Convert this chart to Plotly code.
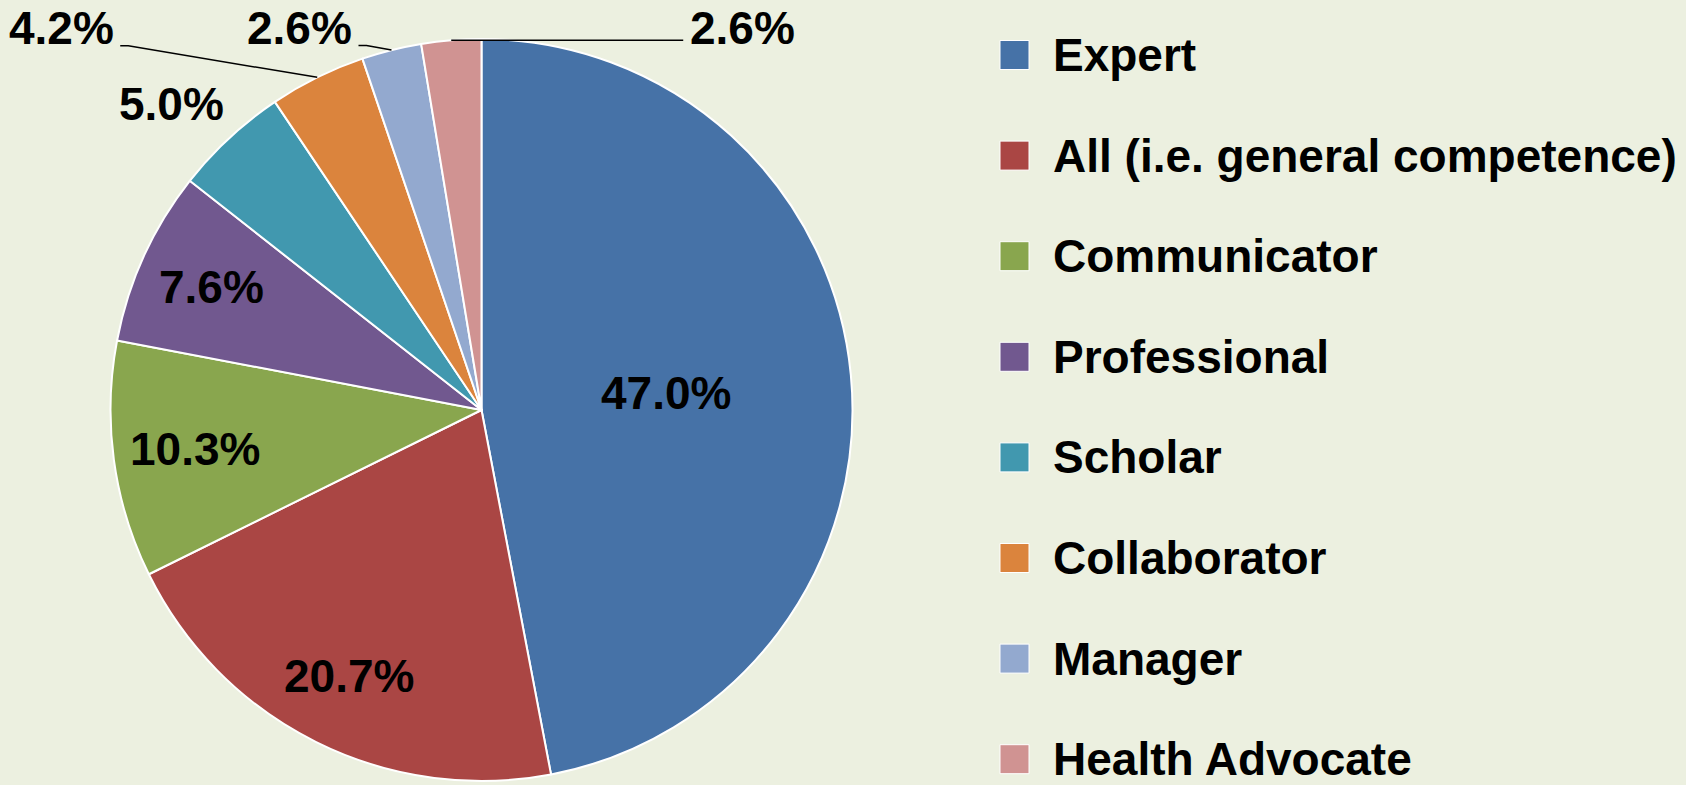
import math
import plotly.graph_objects as go

# ---- data ----
categories = ["Expert", "All (i.e. general competence)", "Communicator", "Professional",
              "Scholar", "Collaborator", "Manager", "Health Advocate"]
shares = [47.0, 20.7, 10.3, 7.6, 5.0, 4.2, 2.6, 2.6]
colors = ["#4672A7", "#AA4644", "#89A64E", "#71588F", "#4198AF", "#DB843D", "#93A9CF", "#D09392"]

# ---- layout constants ----
W, H = 1686, 785
BG = "#ECF0E0"
FONT = "Liberation Sans, Arial, sans-serif"
FS = 46
CX, CY, R = 481.5, 410, 371  # pie centre / radius in px

label_text = [f"{v:.1f}%" for v in shares]
# label placement style: ("in", radial fraction) or ("out", dx, dy, leader)
label_style = [("in", 0.50), ("in", 0.80), ("in", 0.78), ("in", 0.80),
               ("out", -58, -34, False), ("out", -256, -49, True),
               ("out", -92, -22, True), ("out", 291, -12, True)]
HALF_W = 53      # approx half width of a label at this font size (px)
CAP_HALF = 16.5  # approx half cap height (px)

# legend layout (px)
LEG_KEY_X, LEG_KEY_SIZE, LEG_TEXT_X = 1014.5, 29, 1051
LEG_FIRST_Y, LEG_STEP = 55, 100.6

fig = go.Figure()
fig.add_trace(go.Pie(
    labels=categories, values=shares, sort=False, direction="clockwise", rotation=0,
    marker=dict(colors=colors, line=dict(color="white", width=2)),
    textinfo="none",
    domain=dict(x=[(CX - R) / W, (CX + R) / W], y=[(H - CY - R) / H, (H - CY + R) / H]),
    showlegend=False, hoverinfo="label+percent",
))


def to_paper(px, py):
    return px / W, 1 - py / H


total = sum(shares)
cum = 0.0
annotations, shapes = [], []
for i, v in enumerate(shares):
    mid = (cum + v / 2) / total
    cum += v
    th = 2 * math.pi * mid
    st = label_style[i]
    if st[0] == "in":
        lx = CX + st[1] * R * math.sin(th)
        ly = CY - st[1] * R * math.cos(th)
    else:
        ex = CX + R * math.sin(th)
        ey = CY - R * math.cos(th)
        lx, ly = ex + st[1], ey + st[2]
        if st[3]:
            side = 1 if st[1] > 0 else -1
            base = min(ly + CAP_HALF + 1, ey)
            end_x = lx - side * (HALF_W + 6)
            elb_x = lx - side * (HALF_W + 14)
            p0, p1, p2 = to_paper(ex, ey), to_paper(elb_x, base), to_paper(end_x, base)
            shapes.append(dict(
                type="path", xref="paper", yref="paper",
                path=f"M {p0[0]},{p0[1]} L {p1[0]},{p1[1]} L {p2[0]},{p2[1]}",
                line=dict(color="black", width=1.5),
            ))
    ax_, ay_ = to_paper(lx, ly)
    annotations.append(dict(
        x=ax_, y=ay_, xref="paper", yref="paper", xanchor="center", yanchor="middle",
        text=label_text[i], showarrow=False,
        font=dict(family=FONT, size=FS, color="black", weight="bold"),
    ))

# legend: coloured key + category name per row
for k, (c, col) in enumerate(zip(categories, colors)):
    ry = LEG_FIRST_Y + k * LEG_STEP
    x0, y0 = to_paper(LEG_KEY_X - LEG_KEY_SIZE / 2, ry + LEG_KEY_SIZE / 2)
    x1, y1 = to_paper(LEG_KEY_X + LEG_KEY_SIZE / 2, ry - LEG_KEY_SIZE / 2)
    shapes.append(dict(type="rect", xref="paper", yref="paper", x0=x0, y0=y0, x1=x1, y1=y1,
                       fillcolor=col, line=dict(color="white", width=1)))
    tx, ty = to_paper(LEG_TEXT_X, ry)
    annotations.append(dict(
        x=tx, y=ty, xref="paper", yref="paper", xanchor="left", yanchor="middle",
        text=c, showarrow=False,
        font=dict(family=FONT, size=FS, color="black", weight="bold"),
    ))

fig.update_layout(
    width=W, height=H,
    margin=dict(l=0, r=0, t=0, b=0),
    paper_bgcolor=BG, plot_bgcolor=BG,
    showlegend=False,
    annotations=annotations,
    shapes=shapes,
)

fig.write_html("out.html", config={"displayModeBar": False},
               post_script="document.body.style.margin='0px';document.body.style.overflow='hidden';")
